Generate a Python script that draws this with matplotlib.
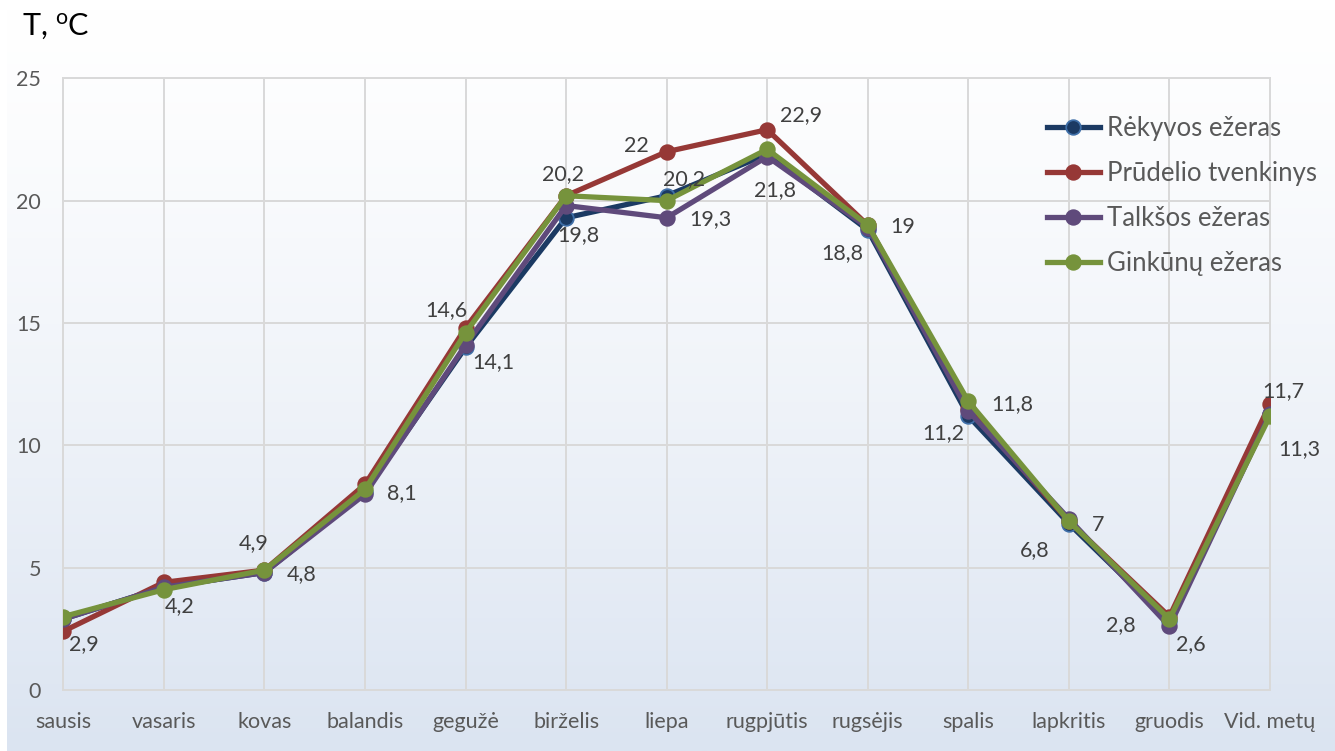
import numpy as np
import matplotlib
matplotlib.use("Agg")
import matplotlib.pyplot as plt
from matplotlib.colors import LinearSegmentedColormap

plt.rcParams['font.family'] = ['Lato', 'DejaVu Sans']
plt.rcParams['mathtext.fontset'] = 'custom'
plt.rcParams['mathtext.rm'] = 'Lato'
plt.rcParams['mathtext.it'] = 'Lato'

categories = ["sausis", "vasaris", "kovas", "balandis", "gegužė", "birželis", "liepa",
              "rugpjūtis", "rugsėjis", "spalis", "lapkritis", "gruodis", "Vid. metų"]
series_names = ["Rėkyvos ežeras", "Prūdelio tvenkinys", "Talkšos ežeras", "Ginkūnų ežeras"]
rekyvos = [2.9, 4.2, 4.8, 8.1, 14.0, 19.3, 20.2, 21.9, 18.8, 11.2, 6.8, 2.8, 11.3]
prudelio = [2.4, 4.4, 4.9, 8.4, 14.8, 20.2, 22.0, 22.9, 19.0, 11.5, 6.9, 3.0, 11.7]
talksos = [2.9, 4.2, 4.8, 8.0, 14.1, 19.8, 19.3, 21.8, 18.9, 11.4, 7.0, 2.6, 11.3]
ginkunu = [3.0, 4.1, 4.9, 8.2, 14.6, 20.2, 20.0, 22.1, 19.0, 11.8, 6.9, 2.9, 11.2]
yticks = [0, 5, 10, 15, 20, 25]

colors = ["#1b3a63", "#963836", "#5f4a7b", "#76933c"]
edge_colors = ["#3f6fa8", "#963836", "#5f4a7b", "#76933c"]

# data labels: (series index, category index, dx px, dy px)
label_specs = [
    (0, 0, 21, -25), (0, 1, 16, -19), (3, 2, -11, 27), (2, 2, 37, -2),
    (0, 3, 37, -1), (3, 4, -19, 23), (2, 4, 28, -17), (3, 5, -3, 22),
    (2, 5, 12, -30), (1, 6, -30, 6), (0, 6, 17, 17), (2, 6, 44, -1),
    (1, 7, 34, 15), (2, 7, 8, -33), (3, 8, 35, -2), (0, 8, -25, -23),
    (3, 9, 44, -3), (0, 9, -25, -17), (2, 10, 29, -6), (0, 10, -34, -26),
    (0, 11, -49, -4), (2, 11, 21, -18), (1, 12, 13, 13), (2, 12, 29, -36),
]

W, H = 1335, 751
fig = plt.figure(figsize=(W / 100, H / 100), dpi=100)

# background gradient
bg = fig.add_axes([7 / W, 0, 1 - 7 / W, 1], zorder=-10)
grad = np.linspace(0, 1, 256).reshape(-1, 1) ** 1.3
cmap = LinearSegmentedColormap.from_list("bg", ["#ffffff", "#dbe4f1"])
bg.imshow(grad, aspect="auto", cmap=cmap, extent=[0, 1, 0, 1], origin="upper")
bg.axis("off")

ax = fig.add_axes([63.3 / W, 61 / H, (1270 - 63.3) / W, (690 - 78.3) / H])
ax.set_facecolor("none")
x = np.arange(len(categories))
data = [rekyvos, prudelio, talksos, ginkunu]
for i, (vals, name) in enumerate(zip(data, series_names)):
    ax.plot(x, vals, color=colors[i], lw=3.8, marker="o", markersize=10.5,
            markerfacecolor=colors[i], markeredgecolor=edge_colors[i],
            markeredgewidth=1.3, label=name, zorder=3 + i, solid_joinstyle="round")

for si, ci, dx, dy in label_specs:
    v = data[si][ci]
    txt = f"{v:g}".replace(".", ",")
    ax.annotate(txt, (ci, v), xytext=(dx * 0.72, dy * 0.72), textcoords="offset points",
                ha="center", va="center", fontsize=15.5, color="#404040", zorder=10)

ax.set_xlim(0, len(categories) - 1)
ax.set_ylim(0, 25)
ax.set_yticks(yticks)
ax.set_xticks(x)
ax.set_xticklabels(categories)
ax.grid(True, color="#d9d9d9", lw=1.4)
ax.set_axisbelow(True)
for s in ax.spines.values():
    s.set_color("#d9d9d9")
    s.set_linewidth(1.4)
ax.tick_params(axis="both", length=0, labelsize=15.5, colors="#595959")
ax.tick_params(axis="y", pad=16)
ax.tick_params(axis="x", pad=16)

leg = ax.legend(loc="upper left", bbox_to_anchor=(1047 / W, 1 - 116 / H),
                bbox_transform=fig.transFigure, frameon=False, fontsize=18.5,
                handlelength=2.06, handletextpad=0.27, labelspacing=0.78,
                borderpad=0, borderaxespad=0)
for t in leg.get_texts():
    t.set_color("#595959")

fig.text(22 / W, 1 - 35 / H, r"T, $^{\mathrm{o}}$C", fontsize=22, color="#000000",
         ha="left", va="baseline")

fig.savefig("out.png", dpi=100)
